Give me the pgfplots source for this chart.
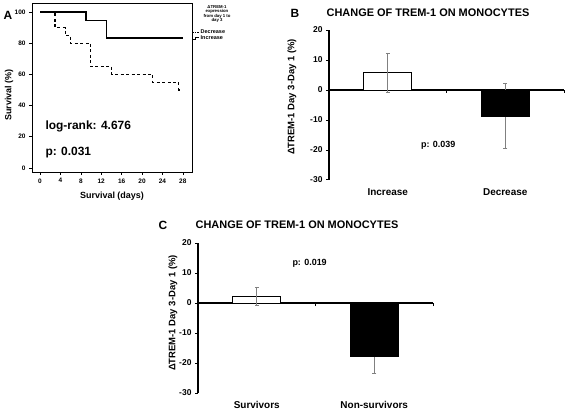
\documentclass[border=0pt]{standalone}
\usepackage{fontspec}
\setmainfont{Liberation Sans}
\usepackage{pgfplots}
\pgfplotsset{compat=1.18}
\begin{document}
\begin{tikzpicture}
\useasboundingbox (0,0) rectangle (567bp,410bp);
% ---------------- Panel A ----------------
\begin{axis}[at={(32bp,238bp)}, anchor=south west, scale only axis,
  width=160bp, height=169bp,
  xmin=-1.57, xmax=29.8, ymin=-2.6, ymax=105.8,
  xtick={0,4,...,28}, ytick={0,20,...,100},
  tick align=outside, xtick pos=left, ytick pos=left,
  major tick length=3bp,
  tick label style={font=\bfseries\fontsize{6.5}{7}\selectfont},
  /pgf/number format/assume math mode=true,
  axis line style={line width=0.8pt}, tick style={line width=0.6pt, black},
  clip=false]
\addplot[const plot, line width=1.2pt] coordinates {(0,100)(9,94.4)(13,83.3)(27.97,83.3)};
\addplot[const plot, line width=1.2pt, dash pattern=on 3bp off 2.5bp] coordinates {(0,100)(2.95,90)(5,85)(5.9,80)(9.95,65)(14.05,60)(22.1,55)(27.2,50)(27.8,50)};
\end{axis}
\node[font=\bfseries\fontsize{12}{14}\selectfont] at (8bp,395bp) {A};
\node[rotate=90, font=\bfseries\fontsize{9}{10}\selectfont] at (9bp,315bp) {Survival (\%)};
\node[font=\bfseries\fontsize{9}{10}\selectfont] at (112bp,214bp) {Survival (days)};
\node[anchor=west, font=\bfseries\fontsize{12}{14}\selectfont] at (42bp,284bp) {log-rank: 4.676};
\node[anchor=west, font=\bfseries\fontsize{12}{14}\selectfont] at (42bp,257bp) {p: 0.031};
\node[align=center, font=\bfseries\fontsize{4.3}{4.5}\selectfont] at (217bp,396bp) {ΔTREM-1\\expression\\from day 1 to\\day 3};
\draw[line width=0.8pt, dash pattern=on 1.5bp off 1bp] (192bp,378bp) -- (199bp,378bp);
\draw[line width=0.8pt] (192bp,371bp) -- (195bp,371bp) -- (195bp,373bp) -- (199bp,373bp);
\node[anchor=west, inner sep=0.5bp, font=\bfseries\fontsize{5.5}{6}\selectfont] at (200bp,378bp) {Decrease};
\node[anchor=west, inner sep=0.5bp, font=\bfseries\fontsize{5.5}{6}\selectfont] at (200bp,372bp) {Increase};
% ---------------- Panel B ----------------
\begin{axis}[at={(329bp,230bp)}, anchor=south west, scale only axis,
  width=235bp, height=150bp,
  xmin=0, xmax=2, ymin=-30, ymax=20,
  axis x line=middle, axis y line=left, axis line style={-, line width=1.2pt},
  xtick={1,2}, xticklabels={}, ytick={-30,-20,...,20},
  tick align=outside, major tick length=3bp, tick style={line width=1pt, black},
  tick label style={font=\bfseries\fontsize{8.5}{9}\selectfont},
  /pgf/number format/assume math mode=true,
  clip=false]
\addplot[draw=none, mark=none, forget plot, error bars/.cd, y dir=both, y explicit,
  error bar style={draw=gray, line width=0.6pt}, error mark options={rotate=90, mark size=2bp, draw=gray, line width=0.6pt}]
  coordinates {(1.5,-8.9) += (0,11.1) -= (0,10.5)};
\addplot[ybar, bar width=48bp, fill=white, draw=black, line width=1pt] coordinates {(0.5,5.8)};
\addplot[ybar, bar width=48bp, fill=black, draw=black, line width=1pt] coordinates {(1.5,-8.9)};
\addplot[draw=none, mark=none, forget plot, error bars/.cd, y dir=both, y explicit,
  error bar style={draw=gray, line width=0.6pt}, error mark options={rotate=90, mark size=2bp, draw=gray, line width=0.6pt}]
  coordinates {(0.5,5.8) += (0,6.4) -= (0,6.4)};
\node[font=\bfseries\fontsize{10}{11}\selectfont] at (axis cs:0.5,-30) [yshift=-12bp] {Increase};
\node[font=\bfseries\fontsize{10}{11}\selectfont] at (axis cs:1.5,-30) [yshift=-12bp] {Decrease};
\node[font=\bfseries\fontsize{9}{10}\selectfont] at (axis cs:0.93,-18.4) {p: 0.039};
\end{axis}
\node[font=\bfseries\fontsize{12}{13}\selectfont] at (295bp,397bp) {B};
\node[font=\bfseries\fontsize{11}{12}\selectfont] at (428bp,397bp) {CHANGE OF TREM-1 ON MONOCYTES};
\node[rotate=90, font=\bfseries\fontsize{9.5}{10}\selectfont] at (292bp,313bp) {ΔTREM-1 Day 3-Day 1 (\%)};
% ---------------- Panel C ----------------
\begin{axis}[at={(198bp,17bp)}, anchor=south west, scale only axis,
  width=235bp, height=150bp,
  xmin=0, xmax=2, ymin=-30, ymax=20,
  axis x line=middle, axis y line=left, axis line style={-, line width=1.2pt},
  xtick={1,2}, xticklabels={}, ytick={-30,-20,...,20},
  tick align=outside, major tick length=3bp, tick style={line width=1pt, black},
  tick label style={font=\bfseries\fontsize{8.5}{9}\selectfont},
  /pgf/number format/assume math mode=true,
  clip=false]
\addplot[draw=none, mark=none, forget plot, error bars/.cd, y dir=both, y explicit,
  error bar style={draw=gray, line width=0.6pt}, error mark options={rotate=90, mark size=2bp, draw=gray, line width=0.6pt}]
  coordinates {(1.5,-17.7) += (0,5.8) -= (0,5.8)};
\addplot[ybar, bar width=48bp, fill=white, draw=black, line width=1pt] coordinates {(0.5,2.2)};
\addplot[ybar, bar width=48bp, fill=black, draw=black, line width=1pt] coordinates {(1.5,-17.7)};
\addplot[draw=none, mark=none, forget plot, error bars/.cd, y dir=both, y explicit,
  error bar style={draw=gray, line width=0.6pt}, error mark options={rotate=90, mark size=2bp, draw=gray, line width=0.6pt}]
  coordinates {(0.5,2.2) += (0,3.1) -= (0,3.0)};
\node[font=\bfseries\fontsize{10}{11}\selectfont] at (axis cs:0.5,-30) [yshift=-12bp] {Survivors};
\node[font=\bfseries\fontsize{10}{11}\selectfont] at (axis cs:1.5,-30) [yshift=-12bp] {Non-survivors};
\node[font=\bfseries\fontsize{9}{10}\selectfont] at (axis cs:0.95,13.3) {p: 0.019};
\end{axis}
\node[font=\bfseries\fontsize{12}{13}\selectfont] at (163bp,185bp) {C};
\node[font=\bfseries\fontsize{11}{12}\selectfont] at (297bp,185bp) {CHANGE OF TREM-1 ON MONOCYTES};
\node[rotate=90, font=\bfseries\fontsize{9.5}{10}\selectfont] at (173bp,97bp) {ΔTREM-1 Day 3-Day 1 (\%)};
\end{tikzpicture}
\end{document}
